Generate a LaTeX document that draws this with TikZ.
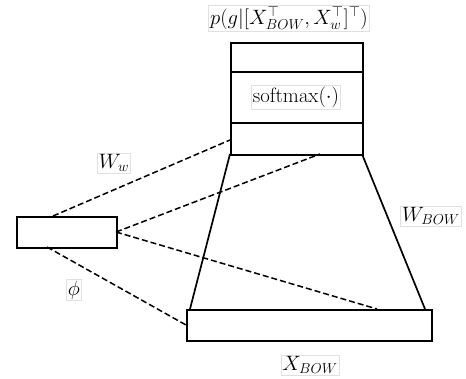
\documentclass[tikz,border=0pt]{standalone}
\begin{document}
\begin{tikzpicture}[x=1pt,y=-1pt,
  blk/.style={draw=black,line width=1.7pt,fill=white},
  solidln/.style={line width=1.7pt},
  dashln/.style={line width=1.5pt,dash pattern=on 6pt off 3pt},
  lbl/.style={draw=black!12,line width=0.5pt,inner sep=1.5pt,font=\fontsize{21.5}{25}\selectfont}]
\useasboundingbox (0,0) rectangle (466,379);
% top box
\node[blk,minimum width=132pt,minimum height=112pt,inner sep=0pt,anchor=north west] (top) at (230,42) {};
\coordinate (d1l) at (230,72); \coordinate (d1r) at (362,72);
\coordinate (d2l) at (230,123); \coordinate (d2r) at (362,123);
\draw[line width=1.7pt] (d1l) -- (d1r);
\draw[line width=1.7pt] (d2l) -- (d2r);
% left box
\node[blk,minimum width=100pt,minimum height=31pt,inner sep=0pt,anchor=north west] (left) at (16,216) {};
% bottom box
\node[blk,minimum width=245pt,minimum height=31pt,inner sep=0pt,anchor=north west] (bot) at (186,309) {};
% connection coordinates
\coordinate (a1) at (53,216);
\coordinate (a2) at (230,140);
\coordinate (b1) at (116,232);
\coordinate (b2) at (320,154);
\coordinate (c2) at (377,309);
\coordinate (e1) at (47,247);
\coordinate (e2) at (186,325);
\coordinate (s1) at (230,154);
\coordinate (s2) at (190,309);
\coordinate (t1) at (362,154);
\coordinate (t2) at (425,309);
\draw[solidln] (s1) -- (s2);
\draw[solidln] (t1) -- (t2);
\draw[dashln] (a1) -- (a2);
\draw[dashln] (b1) -- (b2);
\draw[dashln] (b1) -- (c2);
\draw[dashln] (e1) -- (e2);
% labels
\node[lbl] (ptitle) at (289,18) {$p(g|[X_{BOW}^{\top},X_w^{\top}]^{\top})$};
\node[lbl] (sm) at (296,97) {$\mathrm{softmax}(\cdot)$};
\node[lbl] (ww) at (114,163) {$W_w$};
\node[lbl] (phi) at (74,290) {$\phi$};
\node[lbl] (wbow) at (431,216) {$W_{BOW}$};
\node[lbl] (xbow) at (310,365) {$X_{BOW}$};
\end{tikzpicture}
\end{document}
